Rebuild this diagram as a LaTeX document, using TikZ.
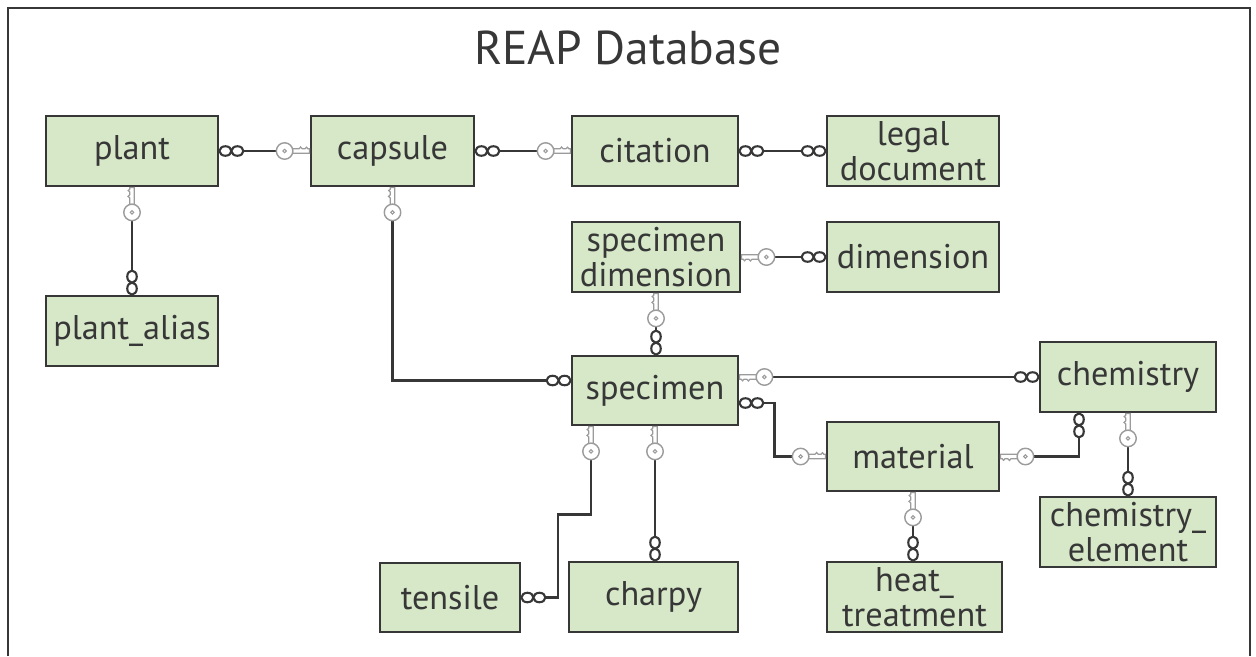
\documentclass[tikz,border=0pt]{standalone}
\usepackage{fontspec}
\setmainfont{PT Sans}
\definecolor{boxgreen}{RGB}{214,232,200}
\definecolor{ink}{RGB}{55,55,55}
\definecolor{keygray}{RGB}{155,155,155}
\begin{document}
\begin{tikzpicture}[x=0.02cm, y=-0.02cm,
		tbl/.style 2 args={draw=ink, line width=1.6pt, fill=boxgreen, inner sep=0pt, text=ink, align=center,
			font=\fontsize{19.5}{20}\selectfont, minimum width=#1*0.02cm, minimum height=#2*0.02cm},
		link/.style={draw=ink, line width=1.6pt},
		keyend/.pic={
			\filldraw[draw=keygray, fill=white, line width=0.7pt] (0,-2.3) -- (17,-2.3) -- (17,2.3) -- (10.5,2.3) -- (9,4) -- (7.5,2.3) -- (4.5,2.3) -- (3.2,3.8) -- (1.8,2.3) -- (0,2.3) -- cycle;
			\filldraw[draw=keygray, fill=white, line width=0.8pt] (25,0) circle (0.165cm);
			\draw[keygray, line width=0.6pt] (25,0) circle (0.035cm);
		},
		manyend/.pic={
			\filldraw[draw=ink, fill=white, line width=1.2pt] (6,0) ellipse (0.12cm and 0.095cm) (18,0) ellipse (0.12cm and 0.095cm);
		}]
	\useasboundingbox (0,0) rectangle (1256,656);
	\draw[ink, line width=1.1pt] (8,656) -- (8,8) -- (1250,8) -- (1250,656);
	\node[text=ink, font=\fontsize{27}{30}\selectfont] (title) at (628,48) {REAP Database};
	\node[tbl={172}{70}] (plant) at (132,151) {plant};
	\node[tbl={163}{70}] (capsule) at (392.5,151) {capsule};
	\node[tbl={166}{70}] (citation) at (655,151) {citation};
	\node[tbl={172}{70}] (legal) at (913,151) {legal\\document};
	\node[tbl={172}{70}] (alias) at (132,331) {plant\_alias};
	\node[tbl={168}{70}] (specdim) at (656,257) {specimen\\dimension};
	\node[tbl={172}{70}] (dimension) at (913,257) {dimension};
	\node[tbl={166}{69}] (specimen) at (655,390.5) {specimen};
	\node[tbl={176}{70}] (chemistry) at (1128,377) {chemistry};
	\node[tbl={172}{69}] (material) at (913,456.5) {material};
	\node[tbl={176}{70}] (chemelem) at (1128,532) {chemistry\_\\element};
	\node[tbl={140}{69}] (tensile) at (450,597.5) {tensile};
	\node[tbl={169}{70}] (charpy) at (653.5,597) {charpy};
	\node[tbl={175}{70}] (heat) at (914.5,597) {heat\_\\treatment};
	\draw[link] (plant) -- (capsule);
	\draw[link] (capsule) -- (citation);
	\draw[link] (citation) -- (legal);
	\draw[link] (plant) -- (alias);
	\draw[link] (capsule.south) |- ([yshift=0.2cm]specimen.west);
	\draw[link] (specdim) -- (dimension);
	\draw[link] (specdim.south) -- (specdim.south |- specimen.north);
	\draw[link] (chemistry.west -| specimen.east) -- (chemistry.west);
	\draw[link] ([yshift=-0.25cm]specimen.east) -- ++(35,0) |- (material.west);
	\draw[link] (material.east) -| ([xshift=-0.98cm]chemistry.south);
	\draw[link] (chemistry.south) -- (chemistry.south |- chemelem.north);
	\draw[link] ([xshift=-1.28cm]specimen.south) -- ++(0,88) -- ++(-33,0) |- (tensile.east);
	\draw[link] (specimen.south) -- (specimen.south |- charpy.north);
	\draw[link] (material.south) -- (material.south |- heat.north);
	\pic at (plant.east) {manyend};
	\pic[rotate=180] at (capsule.west) {keyend};
	\pic at (capsule.east) {manyend};
	\pic[rotate=180] at (citation.west) {keyend};
	\pic at (citation.east) {manyend};
	\pic[rotate=180] at (legal.west) {manyend};
	\pic[rotate=-90] at (plant.south) {keyend};
	\pic[rotate=90] at (alias.north) {manyend};
	\pic[rotate=-90] at (capsule.south) {keyend};
	\pic[rotate=180] at ([yshift=0.2cm]specimen.west) {manyend};
	\pic at (specdim.east) {keyend};
	\pic[rotate=180] at (dimension.west) {manyend};
	\pic[rotate=-90] at (specdim.south) {keyend};
	\pic[rotate=90] at (specdim.south |- specimen.north) {manyend};
	\pic at (chemistry.west -| specimen.east) {keyend};
	\pic[rotate=180] at (chemistry.west) {manyend};
	\pic at ([yshift=-0.25cm]specimen.east) {manyend};
	\pic[rotate=180] at (material.west) {keyend};
	\pic at (material.east) {keyend};
	\pic[rotate=-90] at ([xshift=-0.98cm]chemistry.south) {manyend};
	\pic[rotate=-90] at (chemistry.south) {keyend};
	\pic[rotate=90] at (chemistry.south |- chemelem.north) {manyend};
	\pic[rotate=-90] at ([xshift=-1.28cm]specimen.south) {keyend};
	\pic at (tensile.east) {manyend};
	\pic[rotate=-90] at (specimen.south) {keyend};
	\pic[rotate=90] at (specimen.south |- charpy.north) {manyend};
	\pic[rotate=-90] at (material.south) {keyend};
	\pic[rotate=90] at (material.south |- heat.north) {manyend};
\end{tikzpicture}
\end{document}
